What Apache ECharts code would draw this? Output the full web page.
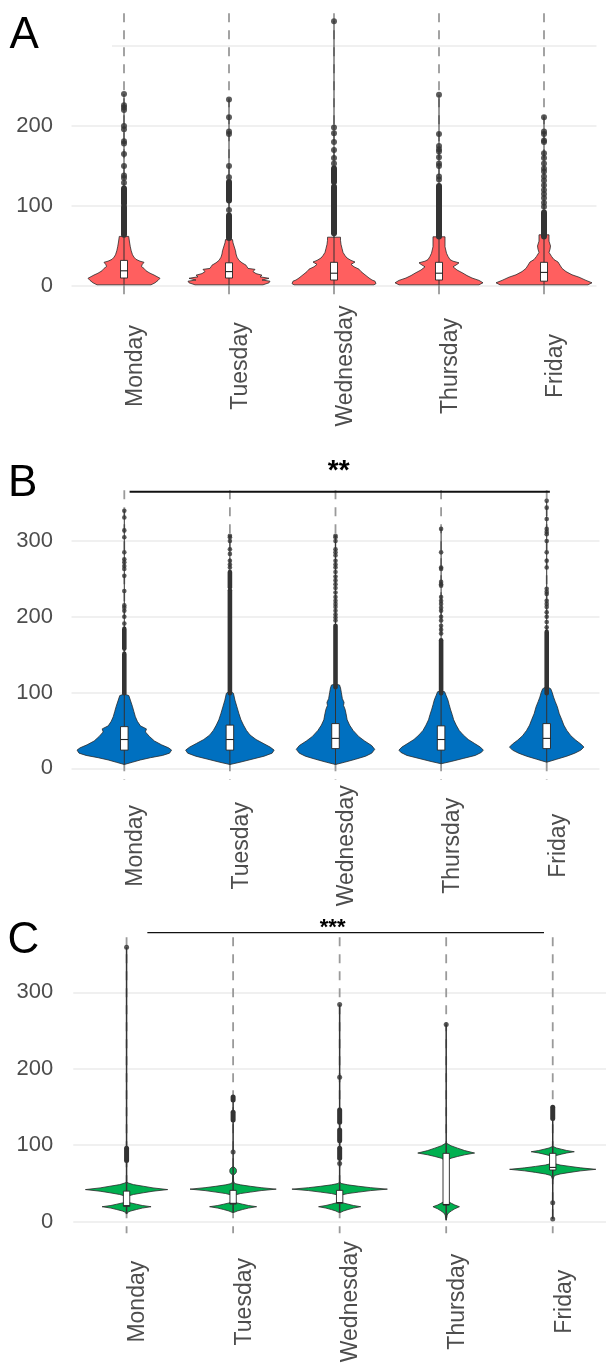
<!DOCTYPE html>
<html>
<head>
<meta charset="utf-8">
<script src="https://cdn.jsdelivr.net/npm/echarts@6/dist/echarts.min.js"></script>
<style>
  html, body { margin: 0; padding: 0; background: #fff; }
  #chart { width: 606px; height: 1367px; }
</style>
</head>
<body>
<div id="chart"></div>
<script>
/* ============================================================
 * Violin + box plots by weekday, three panels (A, B, C)
 * ============================================================ */

var days = ['Monday', 'Tuesday', 'Wednesday', 'Thursday', 'Friday'];
var yTicks = [0, 100, 200, 300];

// violin outlines: [value, half width] (half width in px at the panel's reference step)
var violinA = [
  [[1.5, 27], [4, 31], [7, 34], [9.6, 36], [11, 34], [13.7, 30], [16, 26], [19, 22], [22, 20], [24.2, 17.5], [26.5, 18], [29.6, 20], [31, 16], [33.3, 12], [36, 10], [39, 8.5], [44, 7.2], [49, 6.3], [55, 5.5], [62, 4.7]],
  [[1.5, 34], [4, 40], [6, 41], [7.5, 33], [9.6, 40], [11.5, 31], [13.5, 33], [15.5, 27], [18, 24], [20.8, 26], [22, 19], [24, 18], [26, 17], [29, 13], [32, 10], [36, 8], [40, 7], [44, 6.5], [50, 5], [54, 4], [58, 3.5]],
  [[1.5, 40], [3, 42], [6, 41], [7.5, 38], [10, 35], [12, 33], [15, 30], [18, 27], [21, 25], [24, 20], [27, 17], [30, 21], [32, 17], [35, 13], [38, 11], [42, 9], [47, 8], [52, 7], [57, 6.5], [61, 6.5]],
  [[1.5, 40], [4, 44], [7, 40], [10, 33], [13, 28], [16, 24], [20, 18], [24, 14], [27, 18], [29, 20], [31, 14], [33, 11], [37, 9], [41, 7.5], [49, 6], [61.5, 6]],
  [[1.5, 44], [4, 48], [7, 42], [11, 35], [14, 28], [18, 22], [22, 18], [26, 16], [30, 14], [33, 10], [37, 7.5], [42, 5], [46, 6], [50, 6.5], [56, 5], [64, 5]]
];
var violinB = [
  [[5, 0], [8, 8], [11, 16], [14, 26], [17, 38], [20, 45], [24, 47], [27, 44], [31, 37], [36, 30], [42, 25], [48, 21], [52, 22], [56, 16], [62, 13], [68, 11], [75, 9.5], [82, 8], [90, 6], [96, 4.5], [98, 0]],
  [[5, 0], [8, 10], [12, 22], [16, 34], [20, 42], [24, 44], [28, 40], [33, 33], [38, 26], [44, 20], [50, 16.5], [57, 13.5], [64, 11], [72, 9], [81, 7], [90, 5], [99, 3.5], [102, 0]],
  [[5, 0], [8, 9], [12, 20], [16, 30], [20, 36], [25, 39], [30, 36], [36, 29], [42, 23], [50, 17.5], [57, 14], [64, 11.6], [72, 10.5], [78, 9.5], [83, 8], [87, 8.5], [92, 6.8], [100, 5.8], [106, 5], [110, 4], [111, 0]],
  [[6, 0], [9, 10], [13, 22], [17, 34], [21, 40], [24, 42], [28, 39], [33, 33], [38, 27], [44, 22], [50, 18], [57, 15], [64, 12.5], [71, 11], [77, 9.5], [84, 8], [90, 6.8], [96, 5], [101, 3.5], [102, 0]],
  [[8, 0], [12, 10], [16, 20], [20, 28], [24, 34], [28, 37], [32, 34], [37, 29], [43, 24], [50, 20], [57, 17], [64, 15], [72, 12.5], [81, 10.6], [88, 8.5], [94, 6.8], [100, 5.5], [105, 4], [108, 0]]
];
var violinC = [
  [[10, 0], [12.2, 1], [14, 4.3], [15.9, 10], [17.8, 16], [19.6, 25], [21.2, 16], [22.9, 10], [24.5, 4.3], [26.1, 1.5], [30, 1], [33.5, 1.5], [35.6, 7], [37.8, 17], [39.9, 27], [42, 42], [44.2, 27], [46.4, 17], [48.5, 7], [50.7, 1.5], [52, 0]],
  [[12, 0], [12.2, 1], [14, 4.3], [15.9, 9.6], [17.8, 15.6], [19.6, 24], [21.2, 15.6], [22.9, 9.6], [24.5, 4.1], [26.1, 1.5], [30, 1], [34.8, 1.5], [36.8, 7.5], [38.7, 17.6], [40.7, 28.6], [42.6, 44], [44.5, 28.6], [46.3, 17.6], [48.2, 7.5], [50, 1.5], [53, 0.5], [61, 0.3], [62.5, 2], [64.5, 3.2], [66.5, 3.4], [68.5, 3.2], [70.5, 2], [72, 0]],
  [[12, 0], [12.2, 1], [14, 3.9], [15.9, 8.6], [17.8, 14], [19.6, 21.5], [21.2, 14], [22.9, 8.6], [24.5, 3.7], [26.1, 1.5], [30, 1], [34.8, 1.5], [36.8, 8.3], [38.7, 19.5], [40.7, 31.7], [42.6, 48.7], [44.5, 31.7], [46.3, 19.5], [48.2, 8.3], [50, 1.5], [52, 0]],
  [[2, 0], [5, 0.5], [8.7, 1], [11.4, 2.3], [14.2, 5.4], [16.9, 8.8], [19.6, 13.5], [21.8, 8.8], [24, 5.4], [26.2, 2.3], [28.4, 1], [35, 1], [76, 1], [80.7, 2], [83, 4.9], [85.3, 11.6], [87.5, 18.9], [89.8, 29], [93, 18.9], [96.2, 11.6], [99.3, 4.9], [102.5, 0.5], [103, 0]],
  [[55, 0], [58, 1], [60.4, 1.8], [62.4, 7.5], [64.5, 17.6], [66.5, 28.6], [68.5, 44], [70.4, 28.6], [72.3, 17.6], [74.1, 7.5], [76, 1.8], [80, 1.5], [85, 1.5], [86.6, 3.7], [88.3, 8.8], [89.9, 14.3], [91.5, 22], [93.1, 14.3], [94.8, 8.8], [96.4, 3.7], [98, 1], [98.5, 0]]
];

// box: [q1, median, q3]
var boxA = [[10, 19, 32], [10, 18, 29], [7.5, 16, 29.6], [7.5, 16, 29.6], [6, 17, 29.6]];
var boxB = [[24, 38, 55], [24, 38, 57], [26, 39.5, 59], [24, 38, 56], [26, 39.5, 59]];
var boxC = [[20, 21, 40], [23, 24, 41], [24, 25, 41], [21.8, 22.5, 89.4], [67.6, 71, 89.4]];

// thin centre line: [low, high]
var tailA = [[1.5, 240], [1.5, 233], [1.5, 331], [1.5, 239], [1.5, 211]];
var tailB = [[5, 340], [5, 307], [5, 307], [6, 316], [8, 353]];
var tailC = [[10, 359], [12, 163], [12, 284], [2, 258], [3.5, 150]];

// single outliers
var outliersA = [
  [240, 226, 223, 220, 200, 196, 181, 178, 165, 150, 138, 135, 129],
  [233, 211, 193, 190, 150, 136, 95],
  [331, 198, 191, 180, 170, 160, 153],
  [239, 190, 175, 171, 168, 161, 153, 150, 137, 133],
  [211, 193, 190, 182, 180, 166, 160, 153, 147, 143, 137, 132, 126, 120, 115, 110, 104, 99]
];
var outliersB = [
  [340, 331, 314, 305, 285, 276, 272, 267, 263, 254, 234, 215, 212, 208, 200, 191],
  [307, 305, 300, 289, 283, 274, 269, 265],
  [307, 305, 300, 289, 285, 281, 274, 269, 265, 259, 253, 248, 243, 238, 232, 226, 221, 217, 213, 208, 203, 199, 195],
  [316, 285, 265, 263, 246, 243, 241, 226, 221, 217, 212, 208, 200, 195, 188, 183, 178],
  [353, 344, 329, 316, 312, 309, 300, 285, 274, 265, 237, 233, 230, 221, 217, 213, 206, 200, 193, 186]
];
var outliersC = [
  [359],
  [91],
  [284, 189, 76],
  [258],
  [24.8, 3.5]
];

// stretches where outliers pile up into a solid bar: [from, to]
var runsA = [[[103, 122], [64, 99]], [[107, 130], [60, 88]], [[130, 147], [66, 124]], [[62, 125]], [[62, 92]]];
var runsB = [[[158, 184], [99, 151]], [[239, 259], [99, 235]], [[107, 188]], [[99, 169]], [[99, 180]]];
var runsC = [[[80, 96]], [[133, 143], [159, 163]], [[130, 146], [106, 120], [83, 96]], [], [[135, 149.6]]];

// significance brackets (from/to/labelAt in category positions)
var sigB = { from: 0.05, to: 4.03, y: 365, label: '**', labelAt: 2.03 };
var sigC = { from: 0.195, to: 3.918, y: 378, label: '***', labelAt: 1.934 };

(function () {
  'use strict';

  var FONT = '"Liberation Sans", Arial, Helvetica, sans-serif';
  var ink = '#333333';
  var muted = '#4d4d4d';
  var rule = '#ebebeb';

  var panels = [
    {
      letter: 'A', letterY: 36, letterX: 9.5,
      grid: { left: 71.5, top: 46, width: 525, height: 240 },
      step: 105, fill: '#FF5F5F',
      violins: violinA, boxes: boxA, tails: tailA, outliers: outliersA, runs: runsA, sig: null,
      dashTop: 341, dashBottom: -15, xLabelMargin: 80, yLabelMargin: 18.5, hideTopLabel: true,
      boxWidth: 7, dot: 6, tailWidth: 1
    },
    {
      letter: 'B', letterY: 484, letterX: 8,
      grid: { left: 71.5, top: 541, width: 528, height: 227.3 },
      step: 105, fill: '#0070C0',
      violins: violinB, boxes: boxB, tails: tailB, outliers: outliersB, runs: runsB,
      sig: sigB, sigFont: 'bold 28px ' + FONT, sigLift: 20, sigWidth: 2,
      dashTop: 367, dashBottom: -15, xLabelMargin: 77.5, yLabelMargin: 18.5, hideTopLabel: false,
      boxWidth: 7.5, dot: 4.6, tailWidth: 1
    },
    {
      letter: 'C', letterY: 941, letterX: 7.5,
      grid: { left: 73.3, top: 992.3, width: 543.75, height: 229.4 },
      step: 108.75, fill: '#00B050',
      violins: violinC, boxes: boxC, tails: tailC, outliers: outliersC, runs: runsC,
      sig: sigC, sigFont: 'bold 22px ' + FONT, sigLift: 4.4, sigWidth: 1.2,
      dashTop: 372, dashBottom: -15, xLabelMargin: 80, yLabelMargin: 20, hideTopLabel: false,
      boxWidth: 6.5, dot: 5, tailWidth: 1.5
    }
  ];

  var dayItems = days.map(function (d, i) { return [i, 0]; });

  function assign(a, b) {
    var o = {}, k;
    for (k in a) o[k] = a[k];
    for (k in b) o[k] = b[k];
    return o;
  }

  function catX(api, pos, band) {
    var i = Math.floor(pos);
    return api.coord([i, 0])[0] + (pos - i) * band;
  }

  /* ----------------------------------------------------------
   * series of one panel
   * ---------------------------------------------------------- */
  function panelSeries(p, k) {
    var base = {
      type: 'custom', xAxisIndex: k, yAxisIndex: k, clip: false, silent: true,
      encode: { x: 0, y: 1 }, data: dayItems
    };
    var list = [];

    // dashed guide through each category
    list.push(assign(base, {
      renderItem: function (params, api) {
        var i = api.value(0);
        var a = api.coord([i, p.dashTop]);
        var b = api.coord([i, p.dashBottom]);
        return {
          type: 'line',
          shape: { x1: a[0], y1: a[1], x2: b[0], y2: b[1] },
          style: { stroke: '#9a9a9a', lineWidth: 1.8, lineDash: [9, 8] }
        };
      }
    }));

    // violins
    list.push(assign(base, {
      renderItem: function (params, api) {
        var i = api.value(0);
        var band = api.size([1, 0])[0];
        var right = [], left = [];
        p.violins[i].forEach(function (pt) {
          var c = api.coord([i, pt[0]]);
          var w = pt[1] / p.step * band;
          right.push([c[0] + w, c[1]]);
          left.unshift([c[0] - w, c[1]]);
        });
        return {
          type: 'polygon',
          shape: { points: right.concat(left) },
          style: { fill: p.fill, stroke: '#2a2a2a', lineWidth: 0.8 }
        };
      }
    }));

    // thin centre line
    list.push(assign(base, {
      renderItem: function (params, api) {
        var i = api.value(0);
        var a = api.coord([i, p.tails[i][0]]);
        var b = api.coord([i, p.tails[i][1]]);
        return {
          type: 'line',
          shape: { x1: a[0], y1: a[1], x2: b[0], y2: b[1] },
          style: { stroke: ink, lineWidth: p.tailWidth }
        };
      }
    }));

    // boxes
    list.push(assign(base, {
      renderItem: function (params, api) {
        var i = api.value(0);
        var band = api.size([1, 0])[0];
        var w = p.boxWidth / p.step * band;
        var q1 = api.coord([i, p.boxes[i][0]]);
        var md = api.coord([i, p.boxes[i][1]]);
        var q3 = api.coord([i, p.boxes[i][2]]);
        return {
          type: 'group',
          children: [
            {
              type: 'rect',
              shape: { x: q1[0] - w / 2, y: q3[1], width: w, height: q1[1] - q3[1] },
              style: { fill: '#ffffff', stroke: '#222', lineWidth: 0.9 }
            },
            {
              type: 'line',
              shape: { x1: md[0] - w / 2, y1: md[1], x2: md[0] + w / 2, y2: md[1] },
              style: { stroke: '#222', lineWidth: 1.1 }
            }
          ]
        };
      }
    }));

    // dense outlier stretches
    var runData = [];
    p.runs.forEach(function (rs, i) {
      rs.forEach(function (r) { runData.push([i, r[0], r[1]]); });
    });
    list.push(assign(base, {
      data: runData,
      renderItem: function (params, api) {
        var i = api.value(0);
        var a = api.coord([i, api.value(1)]);
        var b = api.coord([i, api.value(2)]);
        return {
          type: 'line',
          shape: { x1: a[0], y1: a[1], x2: b[0], y2: b[1] },
          style: { stroke: ink, lineWidth: p.dot, lineCap: 'round' }
        };
      }
    }));

    // single outliers
    var pts = [];
    p.outliers.forEach(function (vals, i) {
      vals.forEach(function (v) { pts.push([i, v]); });
    });
    list.push({
      type: 'scatter', xAxisIndex: k, yAxisIndex: k, clip: false, silent: true,
      symbol: 'circle', symbolSize: p.dot, data: pts,
      itemStyle: { color: ink }
    });

    // significance bracket
    if (p.sig) {
      list.push(assign(base, {
        data: [[0, 0]],
        renderItem: function (params, api) {
          var band = api.size([1, 0])[0];
          var y = api.coord([0, p.sig.y])[1];
          return {
            type: 'group',
            children: [
              {
                type: 'line',
                shape: { x1: catX(api, p.sig.from, band), y1: y, x2: catX(api, p.sig.to, band), y2: y },
                style: { stroke: '#111', lineWidth: p.sigWidth }
              },
              {
                type: 'text',
                x: catX(api, p.sig.labelAt, band), y: y - p.sigLift,
                style: { text: p.sig.label, font: p.sigFont, fill: '#000', align: 'center', verticalAlign: 'middle' }
              }
            ]
          };
        }
      }));
    }
    return list;
  }

  var chart = echarts.init(document.getElementById('chart'), null, { renderer: 'canvas' });

  var series = [];
  panels.forEach(function (p, k) { series = series.concat(panelSeries(p, k)); });

  var graphic = panels.map(function (p) {
    return {
      type: 'text', x: p.letterX, y: p.letterY, z: 10,
      style: { text: p.letter, font: '44px ' + FONT, fill: '#000', verticalAlign: 'middle' }
    };
  });
  // the top gridline of panel A is hidden next to the panel letter
  graphic.push({ type: 'rect', z: 1, shape: { x: 60, y: 43, width: 52, height: 6 }, style: { fill: '#fff' } });

  chart.setOption({
    animation: false,
    backgroundColor: '#ffffff',
    textStyle: { fontFamily: FONT },
    grid: panels.map(function (p) { return p.grid; }),
    xAxis: panels.map(function (p, k) {
      return {
        type: 'category', gridIndex: k, data: days,
        axisLine: { show: false }, axisTick: { show: false }, splitLine: { show: false },
        axisLabel: {
          interval: 0, rotate: 90, align: 'center', verticalAlign: 'top',
          margin: p.xLabelMargin, fontSize: 23, color: muted, fontFamily: FONT
        }
      };
    }),
    yAxis: panels.map(function (p, k) {
      return {
        type: 'value', gridIndex: k,
        min: yTicks[0], max: yTicks[yTicks.length - 1], interval: yTicks[1] - yTicks[0],
        axisLine: { show: false }, axisTick: { show: false },
        splitLine: { lineStyle: { color: rule, width: 1.5 } },
        axisLabel: {
          margin: p.yLabelMargin, fontSize: 22, color: muted, fontFamily: FONT,
          formatter: function (v) { return (p.hideTopLabel && v === yTicks[yTicks.length - 1]) ? '' : String(v); }
        }
      };
    }),
    graphic: graphic,
    series: series
  });
})();
</script>
</body>
</html>
